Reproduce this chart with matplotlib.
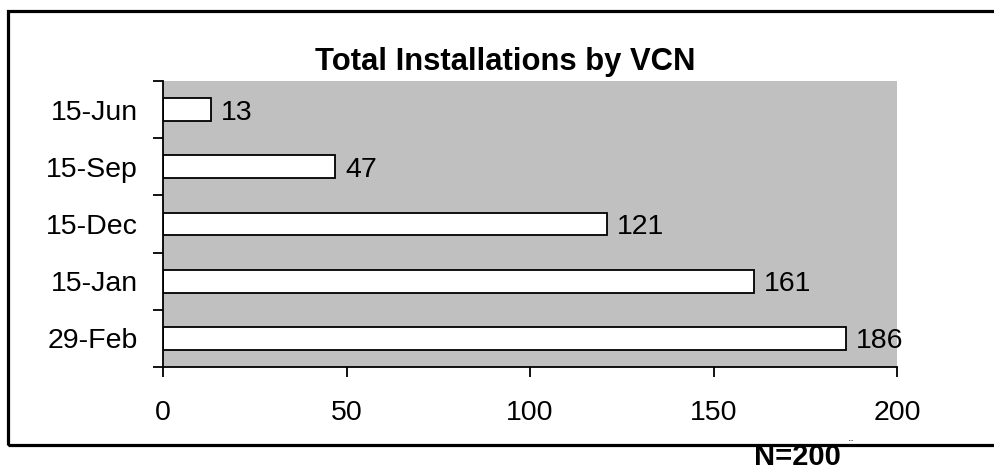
import matplotlib
matplotlib.use("Agg")
import matplotlib.pyplot as plt
from matplotlib.patches import Rectangle
import numpy as np

categories = ["15-Jun", "15-Sep", "15-Dec", "15-Jan", "29-Feb"]
installs = [13, 47, 121, 161, 186]
x_ticks = [0, 50, 100, 150, 200]

plt.rcParams["font.family"] = ["Liberation Sans", "DejaVu Sans"]

W, H = 994, 473
fig = plt.figure(figsize=(W / 100, H / 100), dpi=100)
ax = fig.add_axes([163 / W, 1 - 367 / H, (897 - 163) / W, (367 - 81) / H])
ax.set_facecolor("#c0c0c0")

pos = np.arange(len(categories))
ax.barh(pos, installs, height=0.4, color="white", edgecolor="black", linewidth=1.3)
for p, v in zip(pos, installs):
    ax.text(v + 2.7, p, str(v), va="center_baseline", ha="left", fontsize=20.5)

ax.set_xlim(0, 200)
ax.set_ylim(len(categories) - 0.5, -0.5)
ax.set_xticks(x_ticks)
ax.set_xticklabels([str(t) for t in x_ticks], fontsize=20.5)
ax.set_yticks(pos)
ax.set_yticklabels(categories, fontsize=20.5, va="center_baseline")
ax.set_yticks(np.arange(len(categories) + 1) - 0.5, minor=True)

ax.tick_params(axis="y", which="major", length=0, pad=18)
ax.tick_params(axis="y", which="minor", length=7.5, width=1.3, direction="out")
ax.tick_params(axis="x", which="major", length=7.5, width=1.3, direction="out", pad=16)

for s in ["top", "right"]:
    ax.spines[s].set_visible(False)
for s in ["left", "bottom"]:
    ax.spines[s].set_linewidth(1.3)

fig.text(505 / W, 1 - 70 / H, "Total Installations by VCN", ha="center",
         va="baseline", fontsize=22.3, fontweight="bold")

# outer frame, runs off the right edge
fig.patches.append(Rectangle((8 / W, 1 - 445 / H), 1.2, (445 - 11) / H,
                             transform=fig.transFigure, fill=False,
                             edgecolor="black", linewidth=2.3))

fig.text(797 / W, 1 - 465 / H, "N=200", ha="center", va="baseline",
         fontsize=21, fontweight="bold")
fig.text(851 / W, 1 - 446 / H, "¨", ha="center", va="center", fontsize=9)

fig.savefig("out.png", dpi=100)
